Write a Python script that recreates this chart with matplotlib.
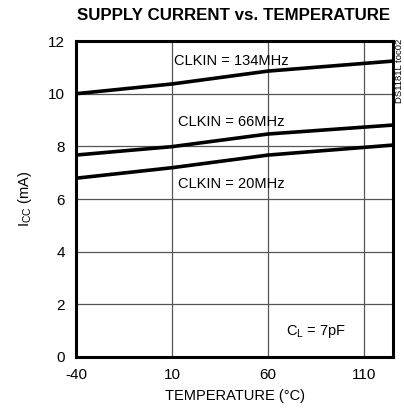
import numpy as np
import matplotlib.pyplot as plt

plt.rcParams['font.family'] = ['Liberation Sans', 'DejaVu Sans']
plt.rcParams['axes.unicode_minus'] = False

# data
temp = [-40, 10, 60, 125]
icc_134 = [10.0, 10.37, 10.86, 11.24]
icc_66 = [7.67, 7.99, 8.47, 8.81]
icc_20 = [6.79, 7.19, 7.67, 8.05]
xticks = [-40, 10, 60, 110]
yticks = [0, 2, 4, 6, 8, 10, 12]

fig = plt.figure(figsize=(4.04, 4.19), dpi=100)
ax = fig.add_axes([0.188, 0.148, 0.785, 0.754])

for y in (icc_134, icc_66, icc_20):
    ax.plot(temp, y, color='black', lw=2.6, solid_capstyle='butt')

ax.set_xlim(-40, 125)
ax.set_ylim(0, 12)
ax.set_xticks(xticks)
ax.set_yticks(yticks)
ax.grid(True, color='#555555', lw=0.9)
ax.tick_params(length=0, labelsize=11, pad=8)
for s in ax.spines.values():
    s.set_linewidth(2.2)

fs = 10.5
ax.text(41, 11.25, 'CLKIN = 134MHz', ha='center', va='center', fontsize=fs)
ax.text(41, 8.92, 'CLKIN = 66MHz', ha='center', va='center', fontsize=fs)
ax.text(41, 6.57, 'CLKIN = 20MHz', ha='center', va='center', fontsize=fs)
ax.text(85, 0.95, '$\\mathregular{C_L}$ = 7pF', ha='center', va='center', fontsize=fs)
fig.text(0.988, 0.83, 'DS1181L toc02', rotation=90, ha='center', va='center', fontsize=6.8)

ax.set_xlabel('TEMPERATURE (°C)', fontsize=10.5, labelpad=5)
ax.set_ylabel('$\\mathregular{I_{CC}}$ (mA)', fontsize=10.5, labelpad=10)
fig.text(0.578, 0.963, 'SUPPLY CURRENT vs. TEMPERATURE', ha='center', va='center',
         fontsize=12.2, fontweight='bold')

plt.savefig('out.png', dpi=100)
